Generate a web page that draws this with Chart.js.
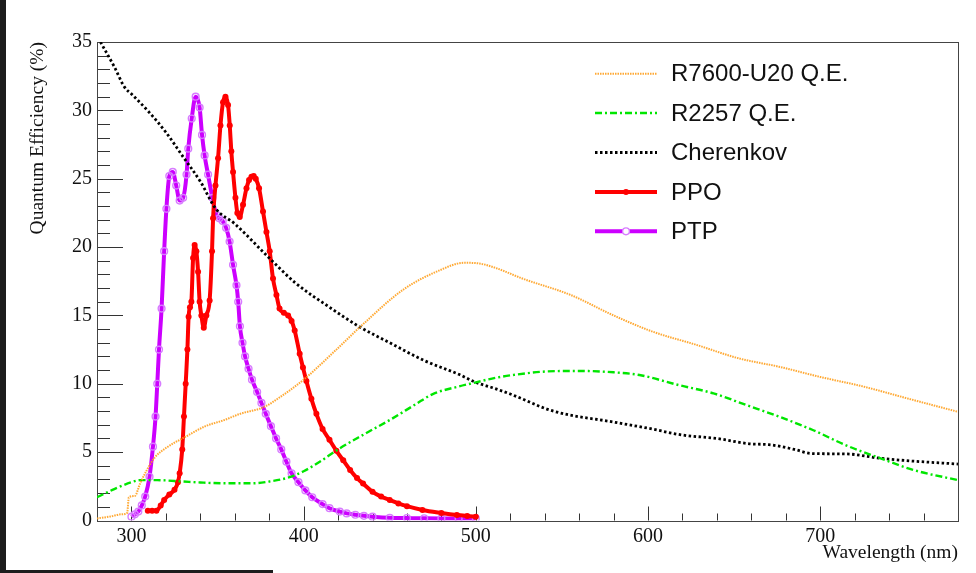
<!DOCTYPE html>
<html>
<head>
<meta charset="utf-8">
<script src="https://cdn.jsdelivr.net/npm/chart.js@4.4.1/dist/chart.umd.min.js"></script>
<style>
  html, body { margin: 0; padding: 0; background: #fff; }
  #qe-chart { display: block; }
</style>
</head>
<body>
<canvas id="qe-chart" width="976" height="573"></canvas>
<script>
// Axis ticks
const xTicks = [300, 400, 500, 600, 700];
const yTicks = [0, 5, 10, 15, 20, 25, 30, 35];

// R7600-U20 quantum efficiency
const r7600Wl = [280, 288, 294, 297.5, 298.5, 302, 305, 309, 313.5, 320, 331, 343, 354, 363, 377, 386, 400, 419, 434, 458, 479, 493, 502, 512, 527, 555, 580, 603, 628, 653, 676, 700, 725, 750, 780];
const r7600Qe = [0.15, 0.3, 0.45, 0.55, 1.7, 1.8, 2.7, 3.7, 4.6, 5.3, 6.1, 6.9, 7.35, 7.8, 8.3, 9.0, 10.3, 12.5, 14.3, 16.9, 18.3, 18.85, 18.8, 18.45, 17.7, 16.5, 15.0, 13.8, 12.85, 11.85, 11.25, 10.5, 9.8, 8.95, 7.95];

// R2257 quantum efficiency
const r2257Wl = [280, 290, 300, 305, 315, 330, 340, 355, 370, 380, 390, 400, 410, 420, 435, 450, 465, 475, 490, 500, 510, 522, 541, 560, 580, 595, 618, 638, 657, 676, 696, 715, 735, 754, 780];
const r2257Qe = [1.7, 2.3, 2.8, 2.95, 2.95, 2.85, 2.78, 2.72, 2.72, 2.85, 3.1, 3.6, 4.35, 5.2, 6.3, 7.35, 8.5, 9.25, 9.8, 10.1, 10.4, 10.65, 10.9, 10.94, 10.84, 10.64, 9.9, 9.3, 8.45, 7.6, 6.6, 5.5, 4.55, 3.7, 2.95];

// Cherenkov spectrum
const cherWl = [282, 290, 296, 300, 310, 320, 330, 340, 349, 360, 380, 395, 415, 432, 450, 470, 490, 500, 510, 520, 545, 580, 600, 620, 640, 660, 670, 685, 695, 715, 735, 750, 780];
const cherVal = [35.0, 33.2, 31.7, 31.2, 29.9, 28.4, 26.6, 24.8, 22.8, 21.7, 19.2, 17.4, 15.6, 14.2, 13.0, 11.7, 10.7, 10.1, 9.7, 9.25, 8.0, 7.2, 6.75, 6.25, 6.0, 5.6, 5.55, 5.2, 4.9, 4.87, 4.55, 4.38, 4.13];

// PPO emission
const ppoWl = [309.5, 312, 314.5, 317, 319, 322, 325, 327, 328, 329.5, 330.5, 331.5, 332.5, 333.2, 334, 334.8, 335.8, 336.7, 337.7, 338.7, 339.6, 340.6, 342, 343.5, 345.4, 346.8, 347.4, 348.8, 350.3, 351.7, 353.2, 354.6, 356.1, 357.1, 358, 359, 360.4, 361.5, 362.9, 364.8, 366.8, 368.3, 369.7, 371, 372.2, 374.1, 376.4, 378.4, 380.3, 382.2, 384.2, 386, 388.5, 391, 393, 394.8, 397.7, 399.6, 401.6, 404.5, 407.4, 411, 415, 419, 423, 427, 431, 434.5, 440, 445, 450, 455, 460, 469, 480, 489, 495, 500];
const ppoVal = [0.72, 0.72, 0.72, 1.1, 1.5, 1.9, 2.25, 2.8, 3.45, 5.2, 7.6, 10.0, 12.5, 14.9, 15.6, 16.0, 19.2, 20.15, 19.7, 18.2, 16.0, 15.0, 14.1, 15.0, 16.1, 19.7, 22.1, 24.5, 26.5, 28.9, 30.6, 31.0, 30.4, 28.9, 27.0, 25.5, 23.6, 22.5, 22.2, 23.1, 24.3, 24.9, 25.15, 25.2, 25.0, 24.3, 22.6, 21.1, 19.7, 17.7, 16.5, 15.5, 15.2, 15.0, 14.6, 13.9, 12.2, 11.2, 10.2, 8.9, 7.8, 6.7, 5.9, 5.1, 4.4, 3.7, 3.1, 2.7, 2.1, 1.75, 1.5, 1.25, 1.05, 0.77, 0.55, 0.4, 0.33, 0.28];

// PTP emission
const ptpWl = [300, 302, 304, 306, 308, 310.5, 312.5, 314, 315, 316, 317.5, 319, 320.3, 322, 324, 326, 328, 330, 332, 333, 335, 337.3, 339.6, 341, 342.5, 344.5, 347, 349.3, 351, 353, 355, 357, 359, 361, 362, 363, 364.5, 366, 368, 370, 373, 375.5, 378, 381, 384, 387, 390, 393, 397, 401, 405, 411, 415, 421, 425, 430, 435, 440, 450, 460, 470, 480, 490, 500];
const ptpVal = [0.28, 0.45, 0.65, 1.1, 1.75, 3.2, 5.4, 7.6, 10.0, 12.5, 15.5, 19.7, 22.8, 25.2, 25.5, 24.5, 23.4, 23.6, 25.3, 27.2, 29.4, 31.0, 30.2, 28.2, 26.7, 25.3, 23.6, 22.35, 22.1, 21.9, 21.4, 20.4, 18.7, 17.2, 16.0, 14.2, 13.0, 12.0, 11.1, 10.3, 9.4, 8.6, 7.8, 6.9, 6.0, 5.2, 4.3, 3.45, 2.8, 2.2, 1.7, 1.2, 0.9, 0.65, 0.52, 0.42, 0.34, 0.28, 0.2, 0.18, 0.16, 0.15, 0.15, 0.15];

const SERIF = '"Liberation Serif", "DejaVu Serif", serif';
const SANS = '"Liberation Sans", Arial, sans-serif';

function pairs(xs, ys) {
  return xs.map((x, i) => ({ x: x, y: ys[i] }));
}

// page backdrop, inside tick marks, frame and legend
const rootStyle = {
  id: 'rootStyle',
  beforeDraw(chart) {
    const ctx = chart.ctx;
    ctx.save();
    ctx.fillStyle = '#ffffff';
    ctx.fillRect(0, 0, chart.width, chart.height);
    ctx.fillStyle = '#1d1d1d';
    ctx.fillRect(0, 0, 6, chart.height);
    ctx.fillRect(0, 570, 273, 3);
    ctx.restore();
  },
  beforeDatasetsDraw(chart) {
    const ctx = chart.ctx;
    const a = chart.chartArea;
    const xs = chart.scales.x;
    const ys = chart.scales.y;
    ctx.save();
    ctx.strokeStyle = '#333';
    ctx.lineWidth = 1;
    ctx.beginPath();
    // x ticks every 20 nm, pointing up
    for (let v = 280; v <= 780; v += 20) {
      const px = Math.round(xs.getPixelForValue(v)) + 0.5;
      const len = v % 100 === 0 ? 14 : 7;
      ctx.moveTo(px, a.bottom);
      ctx.lineTo(px, a.bottom - len);
    }
    // y ticks every 1 %, pointing right
    for (let v = 0; v <= 35; v += 1) {
      const py = Math.round(ys.getPixelForValue(v)) + 0.5;
      const len = v % 5 === 0 ? 26 : 13;
      ctx.moveTo(a.left, py);
      ctx.lineTo(a.left + len, py);
    }
    ctx.stroke();
    ctx.strokeStyle = '#444';
    ctx.strokeRect(Math.round(a.left) + 0.5, Math.round(a.top) + 0.5,
      Math.round(a.right - a.left), Math.round(a.bottom - a.top));
    ctx.restore();
  },
  afterDraw(chart) {
    const ctx = chart.ctx;
    const rows = [73.7, 113, 152.5, 192, 231.3];
    ctx.save();
    ctx.font = '24px ' + SANS;
    ctx.textBaseline = 'middle';
    ctx.textAlign = 'left';
    chart.data.datasets.forEach((ds, i) => {
      const y = rows[i];
      ctx.beginPath();
      ctx.setLineDash(ds.borderDash || []);
      ctx.strokeStyle = ds.borderColor;
      ctx.lineWidth = ds.borderWidth;
      ctx.moveTo(595, y);
      ctx.lineTo(657, y);
      ctx.stroke();
      ctx.setLineDash([]);
      if (ds.pointRadius > 0) {
        ctx.beginPath();
        ctx.arc(626, y, ds.pointRadius, 0, Math.PI * 2);
        if (ds.pointBackgroundColor !== 'transparent') {
          ctx.fillStyle = ds.pointBackgroundColor;
          ctx.fill();
        } else {
          ctx.fillStyle = '#ffffff';
          ctx.fill();
          ctx.strokeStyle = ds.pointBorderColor;
          ctx.lineWidth = ds.pointBorderWidth;
          ctx.stroke();
        }
      }
      ctx.fillStyle = '#111';
      ctx.fillText(ds.label, 671, y + 1);
    });
    ctx.restore();
  }
};

const lineDefaults = {
  fill: false,
  cubicInterpolationMode: 'monotone',
  pointRadius: 0,
  pointHoverRadius: 0
};

new Chart(document.getElementById('qe-chart'), {
  type: 'line',
  data: {
    datasets: [
      Object.assign({}, lineDefaults, {
        label: 'R7600-U20 Q.E.',
        data: pairs(r7600Wl, r7600Qe),
        borderColor: 'rgba(255, 160, 30, 0.9)',
        borderWidth: 2,
        borderDash: [1.5, 1]
      }),
      Object.assign({}, lineDefaults, {
        label: 'R2257 Q.E.',
        data: pairs(r2257Wl, r2257Qe),
        borderColor: '#00e600',
        borderWidth: 2.4,
        borderDash: [7, 3, 2, 3]
      }),
      Object.assign({}, lineDefaults, {
        label: 'Cherenkov',
        data: pairs(cherWl, cherVal),
        borderColor: '#000000',
        borderWidth: 2.8,
        borderDash: [2.5, 2.5]
      }),
      Object.assign({}, lineDefaults, {
        label: 'PPO',
        data: pairs(ppoWl, ppoVal),
        borderColor: '#ff0000',
        borderWidth: 4,
        pointRadius: 3,
        pointBackgroundColor: '#ff0000',
        pointBorderColor: '#ff0000',
        pointBorderWidth: 0
      }),
      Object.assign({}, lineDefaults, {
        label: 'PTP',
        data: pairs(ptpWl, ptpVal),
        borderColor: '#cc00ff',
        borderWidth: 4,
        pointRadius: 3.4,
        pointBackgroundColor: 'transparent',
        pointBorderColor: '#d77cff',
        pointBorderWidth: 1.4
      })
    ]
  },
  options: {
    responsive: false,
    animation: false,
    events: [],
    layout: { padding: { top: 42, right: 18, left: 0, bottom: 0 } },
    plugins: {
      legend: { display: false },
      tooltip: { enabled: false }
    },
    scales: {
      x: {
        type: 'linear',
        min: 280,
        max: 780,
        grid: { display: false, drawTicks: false },
        border: { display: false },
        afterBuildTicks: (s) => { s.ticks = xTicks.map(v => ({ value: v })); },
        afterFit: (s) => { s.height = 52.5; },
        ticks: {
          autoSkip: false,
          maxRotation: 0,
          padding: 4,
          color: '#111',
          font: { family: SERIF, size: 20 }
        },
        title: {
          display: true,
          text: 'Wavelength (nm)',
          align: 'end',
          color: '#111',
          font: { family: SERIF, size: 19.5 },
          padding: { top: 0, bottom: 8 }
        }
      },
      y: {
        min: 0,
        max: 35,
        grid: { display: false, drawTicks: false },
        border: { display: false },
        afterBuildTicks: (s) => { s.ticks = yTicks.map(v => ({ value: v })); },
        afterFit: (s) => { s.width = 97; },
        ticks: {
          padding: 5,
          color: '#111',
          font: { family: SERIF, size: 20 }
        },
        title: {
          display: true,
          text: 'Quantum Efficiency (%)',
          align: 'end',
          color: '#111',
          font: { family: SERIF, size: 19.5 },
          padding: { top: 26, bottom: 0 }
        }
      }
    }
  },
  plugins: [rootStyle]
});
</script>
</body>
</html>
